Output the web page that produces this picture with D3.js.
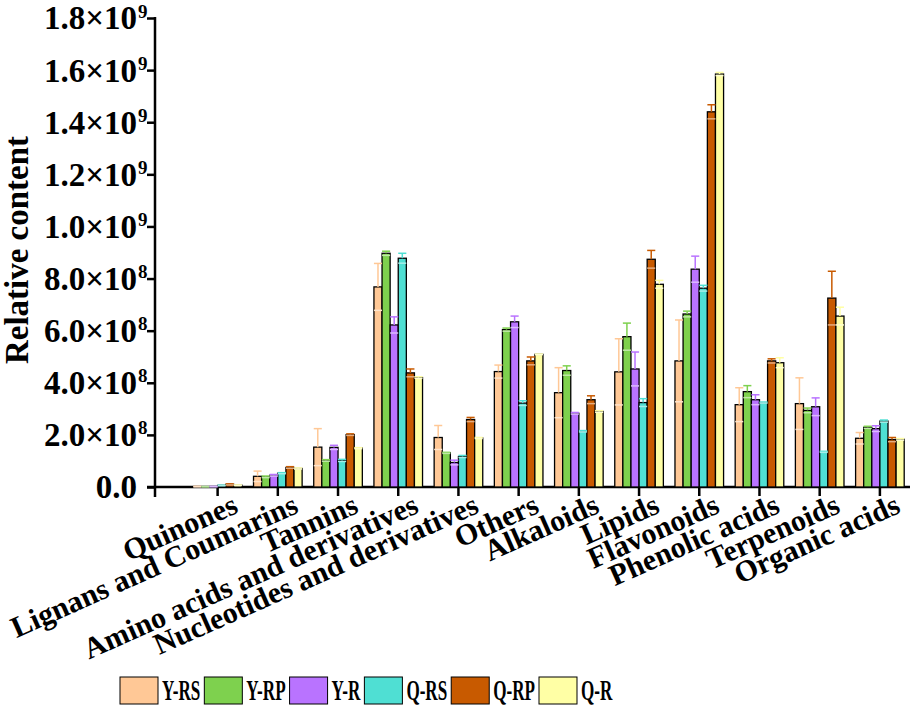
<!DOCTYPE html>
<html>
<head>
<meta charset="utf-8">
<script src="https://cdnjs.cloudflare.com/ajax/libs/d3/7.8.5/d3.min.js"></script>
<style>
  body { margin: 0; background: #fff; }
  svg text { font-family: "Liberation Serif", "Times New Roman", serif; font-weight: bold; fill: #000; }
</style>
</head>
<body>
<div id="chart"></div>
<script>
// Categories and series
const categories = ["Quinones", "Lignans and Coumarins", "Tannins", "Amino acids and derivatives",
  "Nucleotides and derivatives", "Others", "Alkaloids", "Lipids", "Flavonoids",
  "Phenolic acids", "Terpenoids", "Organic acids"];
const series = ["Y-RS", "Y-RP", "Y-R", "Q-RS", "Q-RP", "Q-R"];
const colors = ["#FFC896", "#7ED14E", "#B973FF", "#4FDFD3", "#C85A00", "#FFFFA5"];

// Mean values (one per category)
const yRS = [1.5e6, 4.1e7, 1.53e8, 7.68e8, 1.9e8, 4.43e8, 3.62e8, 4.42e8, 4.84e8, 3.16e8, 3.2e8, 1.87e8];
const yRP = [1e6, 3.9e7, 1.02e8, 8.97e8, 1.31e8, 6.04e8, 4.47e8, 5.77e8, 6.64e8, 3.66e8, 2.94e8, 2.29e8];
const yR  = [1.5e6, 4.5e7, 1.52e8, 6.22e8, 9.4e7, 6.34e8, 2.83e8, 4.53e8, 8.36e8, 3.35e8, 3.08e8, 2.24e8];
const qRS = [6e6, 5.3e7, 1.02e8, 8.78e8, 1.17e8, 3.22e8, 2.14e8, 3.24e8, 7.63e8, 3.24e8, 1.35e8, 2.53e8];
const qRP = [1e7, 7.5e7, 2.01e8, 4.38e8, 2.59e8, 4.84e8, 3.35e8, 8.74e8, 1.44e9, 4.84e8, 7.25e8, 1.82e8];
const qR  = [7e6, 7.1e7, 1.49e8, 4.2e8, 1.88e8, 5.09e8, 2.9e8, 7.78e8, 1.585e9, 4.77e8, 6.56e8, 1.83e8];

// Error bars (SD)
const yRSerr = [1e6, 2e7, 7.1e7, 9.0e7, 4.6e7, 2.5e7, 9.6e7, 1.27e8, 1.57e8, 6.5e7, 9.9e7, 2.2e7];
const yRPerr = [5e5, 3e6, 3e6, 8e6, 2e6, 6e6, 1.8e7, 5.2e7, 1.1e7, 2.3e7, 9e6, 4e6];
const yRerr  = [5e5, 3e6, 8e6, 3.1e7, 9e6, 2.2e7, 3e6, 6.5e7, 5e7, 1.9e7, 3.4e7, 1.1e7];
const qRSerr = [1e6, 2e6, 4e6, 1.9e7, 4e6, 9e6, 2.5e6, 1.5e7, 1.1e7, 2e6, 2e6, 4e6];
const qRPerr = [2e6, 3e6, 3e6, 1.5e7, 8e6, 1.5e7, 1.5e7, 3.4e7, 2.7e7, 8e6, 1.03e8, 8e6];
const qRerr  = [1e6, 2e6, 2e6, 3e6, 2e6, 1e6, 3e6, 1.5e7, 6e6, 1.9e7, 3.4e7, 3e6];

// Y tick labels
const yTicks = [0, 2e8, 4e8, 6e8, 8e8, 1e9, 1.2e9, 1.4e9, 1.6e9, 1.8e9];
const yTickLabels = ["0.0", "2.0×10", "4.0×10", "6.0×10", "8.0×10", "1.0×10", "1.2×10", "1.4×10", "1.6×10", "1.8×10"];
const yTickExp = ["", "8", "8", "8", "8", "9", "9", "9", "9", "9"];

const values = [yRS, yRP, yR, qRS, qRP, qR];
const errors = [yRSerr, yRPerr, yRerr, qRSerr, qRPerr, qRerr];

/************************************
 * Build chart
 ************************************/
const w = 912, h = 705;

const svg = d3.select("#chart")
  .append("svg")
  .attr("width", w)
  .attr("height", h);

const x = d3.scaleBand()
  .domain(categories)
  .range([155, 910])
  .paddingInner(0)
  .paddingOuter(0.27)
  .align(1);

const xs = d3.scaleBand()
  .domain(series)
  .range([-24.3, 24.3]);

const y = d3.scaleLinear()
  .domain([0, 1.8e9])
  .range([487, 18]);

const color = d3.scaleOrdinal().domain(series).range(colors);

// Y axis
const gy = svg.append("g")
  .attr("transform", "translate(155,0)")
  .call(d3.axisLeft(y)
    .tickValues(yTicks)
    .tickSize(8)
    .tickSizeOuter(0)
    .tickPadding(10)
    .tickFormat((d, i) => yTickLabels[i]));

gy.select(".domain").remove();
gy.selectAll(".tick line").attr("stroke", "#000").attr("stroke-width", 2.5);
gy.selectAll(".tick text").attr("font-size", 33).attr("dy", "0.33em");
gy.selectAll(".tick").append("text")
  .attr("x", -17)
  .attr("y", -1)
  .attr("text-anchor", "start")
  .attr("font-size", 19)
  .text((d, i) => yTickExp[i]);

// X axis
const gx = svg.append("g")
  .attr("transform", "translate(0," + y(0) + ")")
  .call(d3.axisBottom(x).tickSize(9).tickSizeOuter(0));

gx.select(".domain").remove();
gx.selectAll(".tick line").attr("stroke", "#000").attr("stroke-width", 2.5);
gx.selectAll(".tick text")
  .attr("font-size", 30)
  .attr("text-anchor", "end")
  .attr("y", 0)
  .attr("dy", 0)
  .attr("transform", "translate(22,25) rotate(-24)");

// Axis lines
svg.append("line")
  .attr("x1", 155).attr("x2", 155)
  .attr("y1", y(1.8e9) - 1).attr("y2", y(0) + 10)
  .attr("stroke", "#000").attr("stroke-width", 2.5);

svg.append("line")
  .attr("x1", 147).attr("x2", 910)
  .attr("y1", y(0)).attr("y2", y(0))
  .attr("stroke", "#000").attr("stroke-width", 2.5);

// Bars
const rows = categories.map((c, i) => series.map((s, j) => ({ c: c, s: s, v: values[j][i], e: errors[j][i] })));

const groups = svg.append("g")
  .selectAll("g")
  .data(rows)
  .join("g")
  .attr("transform", (d, i) => "translate(" + (x(categories[i]) + x.bandwidth() / 2) + ",0)");

groups.selectAll("rect")
  .data(d => d)
  .join("rect")
  .attr("x", d => xs(d.s))
  .attr("y", d => y(d.v))
  .attr("width", xs.bandwidth())
  .attr("height", d => y(0) - y(d.v))
  .attr("fill", d => color(d.s))
  .attr("stroke", "#000")
  .attr("stroke-width", 1.3);

// Error bars
const err = groups.selectAll("g.err")
  .data(d => d)
  .join("g")
  .attr("class", "err");

err.append("line")
  .attr("x1", d => xs(d.s) + xs.bandwidth() / 2)
  .attr("x2", d => xs(d.s) + xs.bandwidth() / 2)
  .attr("y1", d => y(d.v))
  .attr("y2", d => y(d.v + d.e))
  .attr("stroke", d => color(d.s))
  .attr("stroke-width", 1.5);

err.append("line")
  .attr("x1", d => xs(d.s))
  .attr("x2", d => xs(d.s) + xs.bandwidth())
  .attr("y1", d => y(d.v + d.e))
  .attr("y2", d => y(d.v + d.e))
  .attr("stroke", d => color(d.s))
  .attr("stroke-width", 1.5);

err.append("line")
  .attr("x1", d => xs(d.s))
  .attr("x2", d => xs(d.s) + xs.bandwidth())
  .attr("y1", d => y(Math.max(0, d.v - d.e)))
  .attr("y2", d => y(Math.max(0, d.v - d.e)))
  .attr("stroke", d => d3.interpolateRgb(color(d.s), "#fff")(0.5))
  .attr("stroke-width", 1.5);

// Y title
svg.append("text")
  .attr("transform", "translate(28,250) rotate(-90)")
  .attr("text-anchor", "middle")
  .attr("font-size", 33)
  .text("Relative content");

// Legend
let lx = 120;
series.forEach(s => {
  svg.append("rect")
    .attr("x", lx)
    .attr("y", 677)
    .attr("width", 38)
    .attr("height", 27)
    .attr("fill", color(s))
    .attr("stroke", "#000")
    .attr("stroke-width", 1);

  const t = svg.append("g")
    .attr("transform", "translate(" + (lx + 42) + ",700)")
    .append("text")
    .attr("transform", "scale(0.57,1)")
    .attr("font-size", 30)
    .text(s);

  lx += 42 + t.node().getComputedTextLength() * 0.57 + 4;
});
</script>
</body>
</html>
